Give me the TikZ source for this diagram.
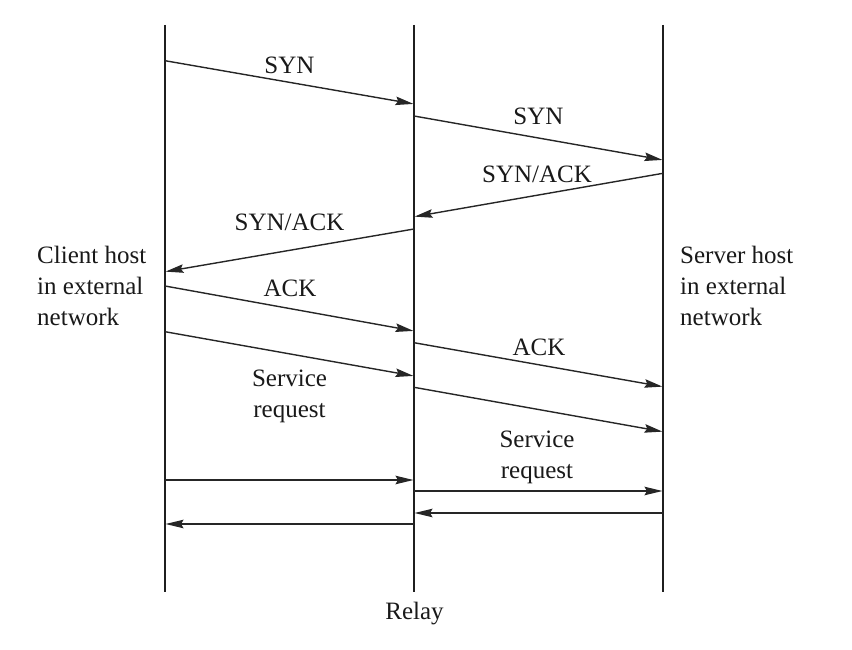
\documentclass[tikz,border=0pt]{standalone}
\usepackage{fontspec}
\setmainfont{Liberation Serif}
\usetikzlibrary{arrows.meta}

\begin{document}
\begin{tikzpicture}[x=1pt,y=-1pt,>={Stealth[length=18pt,width=8.5pt,inset=2.5pt]},shorten >=0.5pt,
		life line/.style={line width=2.3pt,draw=black!88},
		msg/.style={->,line width=1.4pt,color=black!85},
		msg label/.style={anchor=base,inner sep=0pt,text=black!90,font=\fontsize{25}{31}\selectfont,align=center},
		host label/.style={anchor=base west,inner sep=0pt,text=black!90,font=\fontsize{25}{31}\selectfont,align=left}]
	\useasboundingbox (0,0) rectangle (852,650);
	%
	% Lifelines of client, relay and server.
	\coordinate (c0) at (165,25);
	\coordinate (c1) at (165,592);
	\coordinate (r0) at (414,25);
	\coordinate (r1) at (414,592);
	\coordinate (s0) at (663,25);
	\coordinate (s1) at (663,592);
	\draw[life line] (c0) -- (c1);
	\draw[life line] (r0) -- (r1);
	\draw[life line] (s0) -- (s1);
	%
	% Ends of the messages on the lifelines.
	\coordinate (1a) at (165,60.7);  \coordinate (1b) at (414,104);
	\coordinate (2a) at (414,116);   \coordinate (2b) at (663,160);
	\coordinate (3a) at (663,173.3); \coordinate (3b) at (414,216.7);
	\coordinate (4a) at (414,229);   \coordinate (4b) at (165,271.7);
	\coordinate (5a) at (165,286);   \coordinate (5b) at (414,331);
	\coordinate (6a) at (414,342.7); \coordinate (6b) at (663,386.7);
	\coordinate (7a) at (165,331.7); \coordinate (7b) at (414,376);
	\coordinate (8a) at (414,387.3); \coordinate (8b) at (663,431.7);
	\coordinate (9a) at (165,480);   \coordinate (9b) at (414,480);
	\coordinate (10a) at (414,491);  \coordinate (10b) at (663,491);
	\coordinate (11a) at (663,513);  \coordinate (11b) at (414,513);
	\coordinate (12a) at (414,524);  \coordinate (12b) at (165,524);
	%
	% Handshake through the relay.
	\path[msg]
		(1a) edge (1b)
		(2a) edge (2b)
		(3a) edge (3b)
		(4a) edge (4b)
		(5a) edge (5b)
		(6a) edge (6b);
	%
	% Service request and the data that follows.
	\path[msg]
		(7a) edge (7b)
		(8a) edge (8b)
		(9a) edge (9b)
		(10a) edge (10b)
		(11a) edge (11b)
		(12a) edge (12b);
	%
	% Labels (multi-line ones sit on their last baseline).
	\node[msg label] (syn1) at (289.5,73.3) {SYN};
	\node[msg label] (syn2) at (538.5,124.3) {SYN};
	\node[msg label] (synack2) at (537,182.7) {SYN/ACK};
	\node[msg label] (synack1) at (289.5,230.7) {SYN/ACK};
	\node[msg label] (ack1) at (290,296.7) {ACK};
	\node[msg label] (ack2) at (539,355) {ACK};
	\node[msg label] (req1) at (289.5,417.7) {Service\\request};
	\node[msg label] (req2) at (537,478) {Service\\request};
	\node[host label] (client) at (37,325) {Client host\\in external\\network};
	\node[host label] (server) at (680,325) {Server host\\in external\\network};
	\node[msg label] (relay) at (414.5,619.3) {Relay};
\end{tikzpicture}
\end{document}
